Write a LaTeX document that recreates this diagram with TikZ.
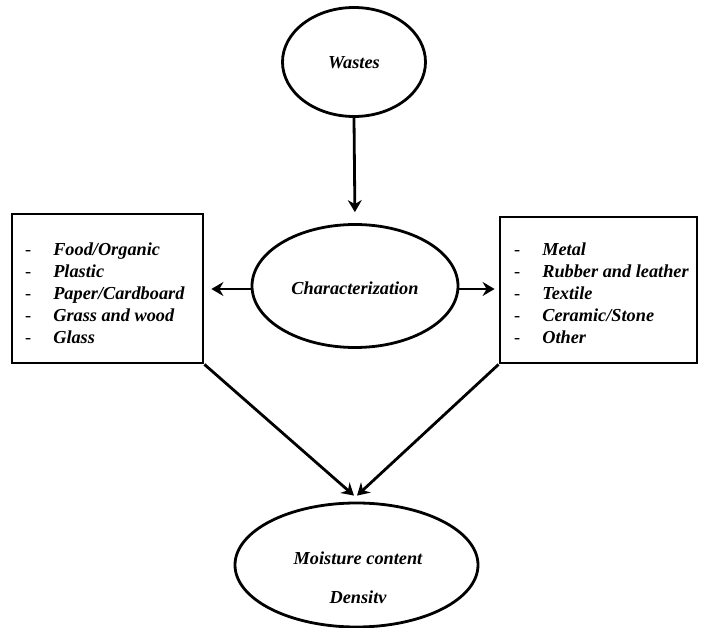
\documentclass[tikz,border=0pt]{standalone}
\usepackage{fontspec}
\setmainfont{Liberation Serif}
\usetikzlibrary{shapes.geometric,arrows.meta}
\tikzset{
  oval/.style={draw, ellipse, line width=2.8pt, inner sep=0pt},
  listbox/.style={draw, rectangle, line width=2.8pt, inner sep=0pt},
  conn/.style={line width=2.8pt, -{Stealth[length=12pt,width=14pt,inset=4pt]}},
  lbl/.style={font=\fontsize{18.3}{22}\selectfont\bfseries\itshape},
  lst/.style={font=\fontsize{18.3}{22}\selectfont, anchor=north west, inner sep=0pt, align=left}
}
\newcommand{\bi}[1]{\textbf{\textit{#1}}}
\begin{document}
\begin{tikzpicture}[x=1pt,y=-1pt]
\useasboundingbox (0,0) rectangle (705,628);
\node[oval, minimum width=143pt, minimum height=109pt] (wastes) at (354,62) {};
\node[lbl] (wastesT) at (354,63) {Wastes};
\node[oval, minimum width=206pt, minimum height=123pt] (char) at (355,286) {};
\node[lbl] (charT) at (355,288) {Characterization};
\node[oval, minimum width=243pt, minimum height=124pt] (bot) at (356.5,565) {};
\node[lbl] (moist) at (358,558) {Moisture content};
\node[lbl] (dens) at (358,597) {Densitv};
\node[listbox, minimum width=191pt, minimum height=149pt] (lbox) at (107.5,288.5) {};
\node[listbox, minimum width=197pt, minimum height=146pt] (rbox) at (598.5,290) {};
\node[lst] (llist) at (25,240) {%
\begin{tabular}{@{}l@{\hspace{22pt}}l@{}}
- & \bi{Food/Organic}\\
- & \bi{Plastic}\\
- & \bi{Paper/Cardboard}\\
- & \bi{Grass and wood}\\
- & \bi{Glass}
\end{tabular}};
\node[lst] (rlist) at (514,240) {%
\begin{tabular}{@{}l@{\hspace{22pt}}l@{}}
- & \bi{Metal}\\
- & \bi{Rubber and leather}\\
- & \bi{Textile}\\
- & \bi{Ceramic/Stone}\\
- & \bi{Other}
\end{tabular}};
\coordinate (cl) at ([yshift=-3pt]char.west);
\coordinate (cr) at ([yshift=-3pt]char.east);
\coordinate (ml) at ([xshift=-2.5pt,yshift=6pt]bot.north);
\coordinate (mr) at ([xshift=0.5pt,yshift=6pt]bot.north);
\draw[conn, shorten >=11pt] (wastes.south) -- (char.north);
\draw[conn, shorten >=7pt] (cl) -- (lbox.east |- cl);
\draw[conn, shorten >=4pt] (cr) -- (rbox.west |- cr);
\draw[conn] (lbox.south east) -- (ml);
\draw[conn] (rbox.south west) -- (mr);
\end{tikzpicture}
\end{document}
